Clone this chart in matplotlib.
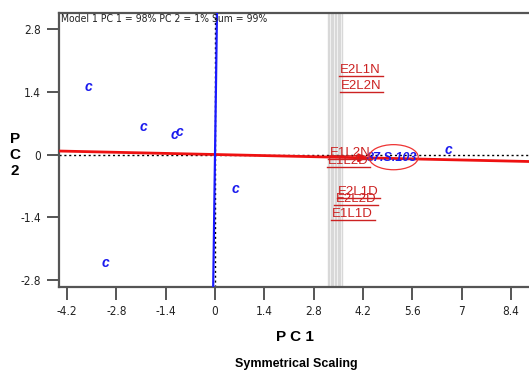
import matplotlib
matplotlib.use("Agg")
import matplotlib.pyplot as plt
from matplotlib.patches import Ellipse
import numpy as np

# ---- data ----
genotype_x = [-3.6, -2.03, -1.14, -1.0, 0.57, -3.11, 6.63]
genotype_y = [1.51, 0.62, 0.44, 0.51, -0.78, -2.42, 0.11]
genotype_labels = ["c", "c", "c", "c", "c", "c", "c"]

highlight_label = "87.S.103"
highlight_x = [5.02]
highlight_y = [-0.08]

env_labels = ["E2L1N", "E2L2N", "E1L2N", "E1L2D", "E2L1D", "E2L2D", "E1L1D"]
env_x = [3.55, 3.57, 3.25, 3.2, 3.48, 3.42, 3.33]
env_y = [1.88, 1.53, 0.04, -0.14, -0.84, -1.0, -1.33]

aec_vec = [1.0, -0.0175]          # average-environment axis direction
aec_arrow_len = [4.4]
circle_x = [3.2, 3.24, 3.28, 3.32, 3.36, 3.4, 3.44, 3.48, 3.52, 3.56, 3.6]

xticks = [-4.2, -2.8, -1.4, 0, 1.4, 2.8, 4.2, 5.6, 7, 8.4]
yticks = [-2.8, -1.4, 0, 1.4, 2.8]
xlim = (-4.43, 8.99)
ylim = (-2.956, 3.157)

title_text = "Model 1 PC 1 = 98% PC 2 = 1% Sum = 99%"

plt.rcParams["font.family"] = ["Liberation Sans", "DejaVu Sans"]
narrow = dict(family=["DejaVu Sans"], fontstretch="condensed")

W, H = 529, 373
fig = plt.figure(figsize=(W / 100, H / 100), dpi=100)
ax = fig.add_axes([59 / W, 1 - 287 / H, 1.005 - 59 / W, (287 - 13) / H])
ax.set_xlim(*xlim)
ax.set_ylim(*ylim)

for s in ax.spines.values():
    s.set_color("#555555")
    s.set_linewidth(1.6)
ax.spines["right"].set_visible(False)

ax.set_xticks(xticks)
ax.set_xticklabels([f"{t:g}" for t in xticks], fontsize=8.5, color="#222222", **narrow)
ax.set_yticks(yticks)
ax.set_yticklabels([f"{t:g}" for t in yticks], fontsize=8.5, color="#222222", **narrow)
ax.tick_params(direction="out", length=9, width=1.4, color="#555555", pad=4)

# gray concentric circles (appear vertical)
for cx in circle_x:
    ax.axvline(cx, color="#d8d8d8", lw=1.0, zorder=1)

# dotted reference axes
ax.axhline(0, color="black", ls=(0, (1.5, 2)), lw=1, zorder=2)
ax.axvline(0, color="black", ls=(0, (1.5, 2)), lw=1, zorder=2)

# AEC abscissa (red) and ordinate (blue)
t = np.array([-10, 10])
ax.plot(t * aec_vec[0], t * aec_vec[1], color="#ee1111", lw=2.0, zorder=3)
ax.plot(-t * aec_vec[1], t * aec_vec[0], color="#1a1aff", lw=1.6, zorder=3)
L = aec_arrow_len[0]
ax.annotate("", xy=(L * aec_vec[0], L * aec_vec[1]),
            xytext=(L * aec_vec[0] - 0.4, (L - 0.4) * aec_vec[1]),
            arrowprops=dict(arrowstyle="-|>", color="#ee1111", lw=1.5,
                            mutation_scale=12), zorder=4)

# genotype markers
for gx, gy, gl in zip(genotype_x, genotype_y, genotype_labels):
    ax.text(gx, gy, gl, color="#1a1aee", fontsize=10, fontweight="bold",
            style="italic", ha="center", va="center", zorder=5)

ax.text(highlight_x[0], highlight_y[0], highlight_label, color="#1a1aee",
        fontsize=9, fontweight="bold", style="italic", ha="center", va="center", zorder=5)
ax.add_patch(Ellipse((highlight_x[0] + 0.05, highlight_y[0] + 0.02), 1.4, 0.56,
                     fill=False, edgecolor="#ee3333", lw=0.9, zorder=5))

# environment labels (red, underlined)
env_texts = []
for ex, ey, el in zip(env_x, env_y, env_labels):
    tt = ax.text(ex, ey, el, color="#cc2222", fontsize=9.5, ha="left",
                 va="center", zorder=6)
    env_texts.append(tt)

fig.canvas.draw()
r = fig.canvas.get_renderer()
inv = ax.transData.inverted()
for tt in env_texts:
    bb = tt.get_window_extent(r)
    (x0, y0), (x1, _) = inv.transform([[bb.x0 - 1, bb.y0], [bb.x1 + 2, bb.y0]])
    ax.plot([x0, x1], [y0, y0], color="#cc2222", lw=1, zorder=6)

ax.text(0.004, 0.997, title_text, transform=ax.transAxes, ha="left", va="top",
        fontsize=7.5, color="#222222", **narrow)

fig.text(295 / W, 1 - 337 / H, "P C 1", ha="center", va="center",
         fontsize=11, fontweight="bold")
fig.text(296 / W, 1 - 364 / H, "Symmetrical Scaling", ha="center", va="center",
         fontsize=9, fontweight="bold")
fig.text(15 / W, 1 - 155 / H, "P\nC\n2", ha="center", va="center",
         fontsize=11, fontweight="bold", linespacing=1.15)

fig.savefig("out.png", dpi=100)
